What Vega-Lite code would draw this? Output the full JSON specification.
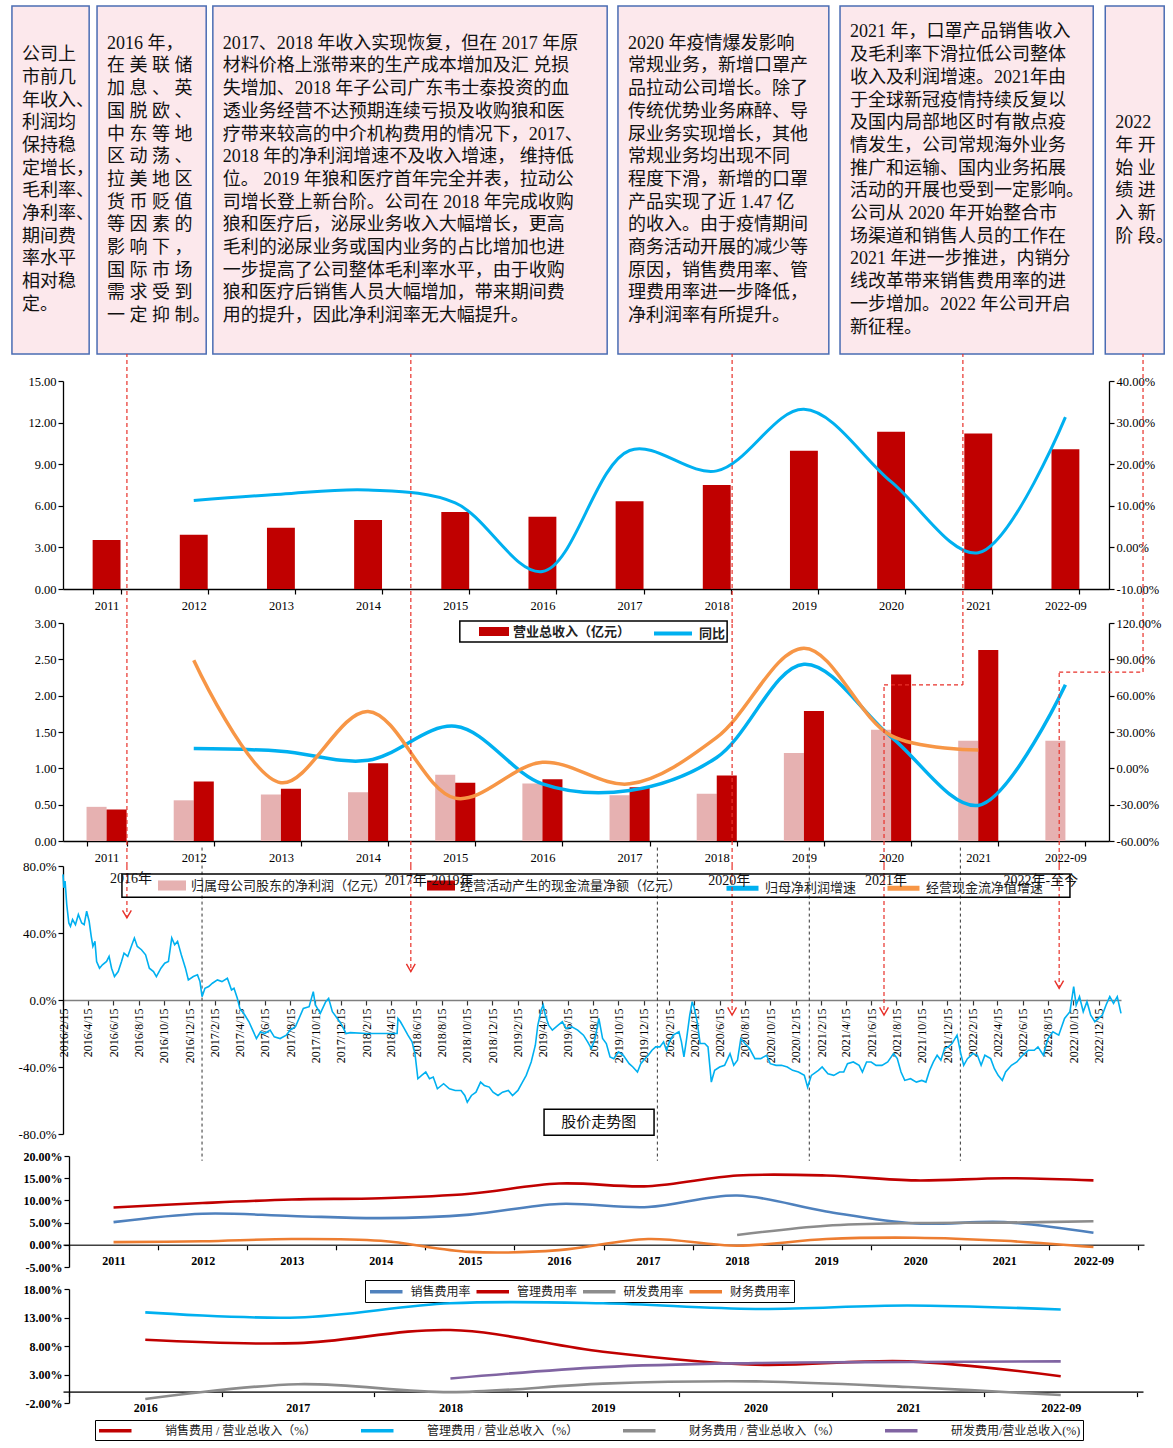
{
  "$schema": "https://vega.github.io/schema/vega-lite/v6.json",
  "padding": {"left": 11, "top": 5, "right": 5, "bottom": 5},
  "bounds": "flush",
  "spacing": 22,
  "resolve": {"scale": {"color": "independent", "fill": "independent", "stroke": "independent"}, "legend": {"color": "independent", "fill": "independent", "stroke": "independent"}},
  "config": {
    "font": "Liberation Serif, Noto Sans CJK SC",
    "view": {"stroke": null},
    "axis": {"grid": false, "labelOverlap": false, "labelFont": "Liberation Serif, Noto Sans CJK SC", "labelFontSize": 12.5, "labelColor": "#000", "domainColor": "#000", "tickColor": "#000", "tickSize": 5, "domainWidth": 1.3, "tickWidth": 1.2},
    "legend": {"labelFont": "Liberation Serif, Noto Sans CJK SC", "labelColor": "#222", "labelFontSize": 12},
    "locale": {"number": {"decimal": ".", "thousands": ",", "grouping": [3], "currency": ["", ""], "minus": "-"}}
  },
  "vconcat": [
    {
      "width": 1046, "height": 353,
      "data": {"values": [
        {"start": "2015-10-15", "end": "2016-04-18", "ty": 0.1412, "lines": ["公司上", "市前几", "年收入、", "利润均", "保持稳", "定增长，", "毛利率、", "净利率、", "期间费", "率水平", "相对稳", "定。"]},
        {"start": "2016-05-07", "end": "2017-01-25", "ty": 0.1086, "lines": ["2016 年，", "在 美 联 储", "加 息 、 英", "国 脱 欧 、", "中 东 等 地", "区 动 荡 、", "拉 美 地 区", "货 币 贬 值", "等 因 素 的", "影 响 下 ，", "国 际 市 场", "需 求 受 到", "一 定 抑 制。"]},
        {"start": "2017-02-10", "end": "2019-09-18", "ty": 0.1086, "lines": ["2017、2018 年收入实现恢复，但在 2017 年原", "材料价格上涨带来的生产成本增加及汇 兑损", "失增加、2018 年子公司广东韦士泰投资的血", "透业务经营不达预期连续亏损及收购狼和医", "疗带来较高的中介机构费用的情况下，2017、", "2018 年的净利润增速不及收入增速， 维持低", "位。 2019 年狼和医疗首年完全并表，拉动公", "司增长登上新台阶。公司在 2018 年完成收购", "狼和医疗后，泌尿业务收入大幅增长，更高", "毛利的泌尿业务或国内业务的占比增加也进", "一步提高了公司整体毛利率水平，由于收购", "狼和医疗后销售人员大幅增加，带来期间费", "用的提升，因此净利润率无大幅提升。"]},
        {"start": "2019-10-14", "end": "2021-03-05", "ty": 0.1086, "lines": ["2020 年疫情爆发影响", "常规业务，新增口罩产", "品拉动公司增长。除了", "传统优势业务麻醉、导", "尿业务实现增长，其他", "常规业务均出现不同", "程度下滑，新增的口罩", "产品实现了近 1.47 亿", "的收入。由于疫情期间", "商务活动开展的减少等", "原因，销售费用率、管", "理费用率进一步降低，", "净利润率有所提升。"]},
        {"start": "2021-04-01", "end": "2022-12-02", "ty": 0.076, "lines": ["2021 年，口罩产品销售收入", "及毛利率下滑拉低公司整体", "收入及利润增速。2021年由", "于全球新冠疫情持续反复以", "及国内局部地区时有散点疫", "情发生，公司常规海外业务", "推广和运输、国内业务拓展", "活动的开展也受到一定影响。", "公司从 2020 年开始整合市", "场渠道和销售人员的工作在", "2021 年进一步推进，内销分", "线改革带来销售费用率的进", "一步增加。2022 年公司开启", "新征程。"]},
        {"start": "2022-12-31", "end": "2023-05-22", "ty": 0.3369, "lines": ["2022", "年 开", "始 业", "绩 进", "入 新", "阶 段。"]}
      ]},
      "layer": [
        {
          "mark": {"type": "rect", "fill": "#fce8ec", "stroke": "#4a6cb3", "strokeWidth": 1.5, "clip": false},
          "encoding": {
            "x": {"field": "start", "type": "temporal", "title": null, "scale": {"type": "utc", "nice": false, "domain": [{"year": 2016, "month": 2, "date": 15, "utc": true}, {"year": 2023, "month": 1, "date": 9, "utc": true}]}, "axis": null},
            "x2": {"field": "end"},
            "y": {"datum": 0, "type": "quantitative", "scale": {"domain": [0, 1], "range": [0, 348], "nice": false}, "axis": null},
            "y2": {"datum": 1}
          }
        },
        {
          "mark": {"type": "text", "fontSize": 18, "lineHeight": 22.7, "align": "left", "baseline": "middle", "dx": 10, "color": "#111", "clip": false},
          "encoding": {
            "x": {"field": "start", "type": "temporal", "title": null, "axis": null},
            "y": {"field": "ty", "type": "quantitative", "title": null, "axis": null},
            "text": {"field": "lines"}
          }
        }
      ]
    },
    {
      "width": 1046, "height": 208,
      "layer": [
        {
          "data": {"name": "revenue", "values": [
            {"year": "2011", "rev": 3.53, "yoy": null},
            {"year": "2012", "rev": 3.92, "yoy": 0.113},
            {"year": "2013", "rev": 4.42, "yoy": 0.128},
            {"year": "2014", "rev": 4.97, "yoy": 0.138},
            {"year": "2015", "rev": 5.55, "yoy": 0.107},
            {"year": "2016", "rev": 5.21, "yoy": -0.058},
            {"year": "2017", "rev": 6.32, "yoy": 0.233},
            {"year": "2018", "rev": 7.5, "yoy": 0.184},
            {"year": "2019", "rev": 9.97, "yoy": 0.332},
            {"year": "2020", "rev": 11.34, "yoy": 0.158},
            {"year": "2021", "rev": 11.22, "yoy": -0.013},
            {"year": "2022-09", "rev": 10.07, "yoy": 0.313}
          ]},
          "mark": {"type": "bar"},
          "encoding": {
            "x": {"field": "year", "type": "nominal", "sort": null, "title": null, "scale": {"domain": ["2011", "2012", "2013", "2014", "2015", "2016", "2017", "2018", "2019", "2020", "2021", "2022-09"], "paddingInner": 0.68, "paddingOuter": 0.34}, "axis": {"labelAngle": 0, "tickBand": "extent", "labelPadding": 5}},
            "y": {"field": "rev", "type": "quantitative", "title": null, "scale": {"domain": [0, 15], "nice": false}, "axis": {"values": [0, 3, 6, 9, 12, 15], "format": ".2f"}},
            "fill": {"datum": "营业总收入（亿元）", "type": "nominal", "scale": {"range": ["#c00000"]}, "legend": {"orient": "none", "legendX": 416, "legendY": 235.5, "direction": "horizontal", "title": null, "padding": 0, "symbolType": "M-1,-0.3H1V0.3H-1Z", "symbolSize": 900, "symbolStrokeWidth": 0, "labelOffset": 4, "labelFontSize": 13, "labelFontWeight": "bold", "labelLimit": 400}}
          }
        },
        {
          "data": {"name": "revenue"},
          "mark": {"type": "line", "interpolate": "catmull-rom", "strokeWidth": 3},
          "encoding": {
            "x": {"field": "year", "type": "nominal", "sort": null, "title": null, "scale": {"domain": ["2011", "2012", "2013", "2014", "2015", "2016", "2017", "2018", "2019", "2020", "2021", "2022-09"]}, "axis": null},
            "y": {"field": "yoy", "type": "quantitative", "title": null, "scale": {"domain": [-0.1, 0.4], "nice": false}, "axis": {"orient": "right", "values": [-0.1, 0, 0.1, 0.2, 0.3, 0.4], "format": ".2%"}},
            "stroke": {"datum": "同比", "type": "nominal", "scale": {"range": ["#00b0f0"]}, "legend": {"orient": "none", "legendX": 589, "legendY": 231.5, "direction": "horizontal", "title": null, "padding": 0, "symbolType": "stroke", "symbolSize": 1444, "symbolStrokeWidth": 4, "labelOffset": 5, "labelFontSize": 13, "labelFontWeight": "bold"}}
          }
        },
        {
          "data": {"values": [
            {"d": "2016-07-18", "lo": -0.163, "hi": 1.13},
            {"d": "2018-06-02", "lo": -0.163, "hi": 1.13},
            {"d": "2020-07-15", "lo": -0.163, "hi": 1.13},
            {"d": "2022-01-22", "lo": -0.163, "hi": 1.13},
            {"d": "2023-04-01", "lo": -0.163, "hi": 1.13}
          ]},
          "mark": {"type": "rule", "color": "#e8312a", "strokeDash": [4, 3], "strokeWidth": 1.2, "clip": false},
          "encoding": {
            "x": {"field": "d", "type": "temporal", "title": null, "scale": {"type": "utc", "nice": false, "domain": [{"year": 2016, "month": 2, "date": 15, "utc": true}, {"year": 2023, "month": 1, "date": 9, "utc": true}]}, "axis": null},
            "y": {"field": "lo", "type": "quantitative", "title": null, "scale": {"domain": [0, 1], "nice": false}, "axis": null},
            "y2": {"field": "hi"}
          }
        }
      ],
      "resolve": {"scale": {"x": "independent", "y": "independent"}, "axis": {"x": "independent", "y": "independent"}}
    },
    {
      "width": 1046, "height": 230,
      "layer": [
        {
          "data": {"values": [
            {"year": "2011", "t": "归属母公司股东的净利润（亿元）", "v": 0.47},
            {"year": "2011", "t": "经营活动产生的现金流量净额（亿元）", "v": 0.435},
            {"year": "2012", "t": "归属母公司股东的净利润（亿元）", "v": 0.56},
            {"year": "2012", "t": "经营活动产生的现金流量净额（亿元）", "v": 0.82},
            {"year": "2013", "t": "归属母公司股东的净利润（亿元）", "v": 0.64},
            {"year": "2013", "t": "经营活动产生的现金流量净额（亿元）", "v": 0.72},
            {"year": "2014", "t": "归属母公司股东的净利润（亿元）", "v": 0.67},
            {"year": "2014", "t": "经营活动产生的现金流量净额（亿元）", "v": 1.07},
            {"year": "2015", "t": "归属母公司股东的净利润（亿元）", "v": 0.91},
            {"year": "2015", "t": "经营活动产生的现金流量净额（亿元）", "v": 0.8},
            {"year": "2016", "t": "归属母公司股东的净利润（亿元）", "v": 0.79},
            {"year": "2016", "t": "经营活动产生的现金流量净额（亿元）", "v": 0.85},
            {"year": "2017", "t": "归属母公司股东的净利润（亿元）", "v": 0.63},
            {"year": "2017", "t": "经营活动产生的现金流量净额（亿元）", "v": 0.74},
            {"year": "2018", "t": "归属母公司股东的净利润（亿元）", "v": 0.65},
            {"year": "2018", "t": "经营活动产生的现金流量净额（亿元）", "v": 0.9},
            {"year": "2019", "t": "归属母公司股东的净利润（亿元）", "v": 1.21},
            {"year": "2019", "t": "经营活动产生的现金流量净额（亿元）", "v": 1.79},
            {"year": "2020", "t": "归属母公司股东的净利润（亿元）", "v": 1.53},
            {"year": "2020", "t": "经营活动产生的现金流量净额（亿元）", "v": 2.29},
            {"year": "2021", "t": "归属母公司股东的净利润（亿元）", "v": 1.38},
            {"year": "2021", "t": "经营活动产生的现金流量净额（亿元）", "v": 2.63},
            {"year": "2022-09", "t": "归属母公司股东的净利润（亿元）", "v": 1.38}
          ]},
          "mark": {"type": "bar"},
          "encoding": {
            "x": {"field": "year", "type": "nominal", "sort": null, "title": null, "scale": {"domain": ["2011", "2012", "2013", "2014", "2015", "2016", "2017", "2018", "2019", "2020", "2021", "2022-09"], "paddingInner": 0.54, "paddingOuter": 0.27}, "axis": {"labelAngle": 0, "tickBand": "extent", "labelPadding": 5}},
            "xOffset": {"field": "t", "type": "nominal", "sort": ["归属母公司股东的净利润（亿元）", "经营活动产生的现金流量净额（亿元）"]},
            "y": {"field": "v", "type": "quantitative", "title": null, "scale": {"domain": [0, 3], "range": [230, 12], "nice": false}, "axis": {"values": [0, 0.5, 1, 1.5, 2, 2.5, 3], "format": ".2f"}},
            "fill": {"field": "t", "type": "nominal", "scale": {"domain": ["归属母公司股东的净利润（亿元）", "经营活动产生的现金流量净额（亿元）"], "range": ["#e6b1b1", "#c00000"]}, "legend": {"orient": "none", "legendX": 95, "legendY": 260.5, "direction": "horizontal", "title": null, "padding": 0, "symbolType": "M-1,-0.36H1V0.36H-1Z", "symbolSize": 784, "symbolStrokeWidth": 0, "labelOffset": 5, "columnPadding": 40, "labelFontSize": 13, "labelLimit": 400}}
          }
        },
        {
          "data": {"values": [
            {"year": "2012", "s": "归母净利润增速", "v": 0.163},
            {"year": "2013", "s": "归母净利润增速", "v": 0.142},
            {"year": "2014", "s": "归母净利润增速", "v": 0.066},
            {"year": "2015", "s": "归母净利润增速", "v": 0.347},
            {"year": "2016", "s": "归母净利润增速", "v": -0.128},
            {"year": "2017", "s": "归母净利润增速", "v": -0.183},
            {"year": "2018", "s": "归母净利润增速", "v": 0.09},
            {"year": "2019", "s": "归母净利润增速", "v": 0.86},
            {"year": "2020", "s": "归母净利润增速", "v": 0.26},
            {"year": "2021", "s": "归母净利润增速", "v": -0.306},
            {"year": "2022-09", "s": "归母净利润增速", "v": 0.69},
            {"year": "2012", "s": "经营现金流净值增速", "v": 0.893},
            {"year": "2013", "s": "经营现金流净值增速", "v": -0.119},
            {"year": "2014", "s": "经营现金流净值增速", "v": 0.47},
            {"year": "2015", "s": "经营现金流净值增速", "v": -0.246},
            {"year": "2016", "s": "经营现金流净值增速", "v": 0.05},
            {"year": "2017", "s": "经营现金流净值增速", "v": -0.128},
            {"year": "2018", "s": "经营现金流净值增速", "v": 0.256},
            {"year": "2019", "s": "经营现金流净值增速", "v": 0.992},
            {"year": "2020", "s": "经营现金流净值增速", "v": 0.27},
            {"year": "2021", "s": "经营现金流净值增速", "v": 0.152}
          ]},
          "mark": {"type": "line", "interpolate": "catmull-rom", "strokeWidth": 3.5},
          "encoding": {
            "x": {"field": "year", "type": "nominal", "sort": null, "title": null, "scale": {"domain": ["2011", "2012", "2013", "2014", "2015", "2016", "2017", "2018", "2019", "2020", "2021", "2022-09"]}, "axis": null},
            "y": {"field": "v", "type": "quantitative", "title": null, "scale": {"domain": [-0.6, 1.2], "range": [230, 12], "nice": false}, "axis": {"orient": "right", "values": [-0.6, -0.3, 0, 0.3, 0.6, 0.9, 1.2], "format": ".2%"}},
            "stroke": {"field": "s", "type": "nominal", "scale": {"domain": ["归母净利润增速", "经营现金流净值增速"], "range": ["#00b0f0", "#f79646"]}, "legend": {"orient": "none", "legendX": 661, "legendY": 258.5, "direction": "horizontal", "title": null, "padding": 0, "symbolType": "stroke", "symbolSize": 1024, "symbolStrokeWidth": 5, "labelOffset": 4, "columnPadding": 20, "labelFontSize": 13, "labelLimit": 400}}
          }
        },
        {
          "data": {"values": [
            {"x1": "2016-07-18", "x2": "2016-07-18", "y1": -0.115, "y2": 1},
            {"x1": "2018-06-02", "x2": "2018-06-02", "y1": -0.115, "y2": 1},
            {"x1": "2020-07-15", "x2": "2020-07-15", "y1": -0.115, "y2": 1},
            {"x1": "2022-01-22", "x2": "2022-01-22", "y1": 0.716, "y2": 1},
            {"x1": "2021-07-16", "x2": "2022-01-22", "y1": 0.716, "y2": 0.716},
            {"x1": "2021-07-16", "x2": "2021-07-16", "y1": -0.115, "y2": 0.716},
            {"x1": "2023-04-01", "x2": "2023-04-01", "y1": 0.775, "y2": 1},
            {"x1": "2022-09-11", "x2": "2023-04-01", "y1": 0.775, "y2": 0.775},
            {"x1": "2022-09-11", "x2": "2022-09-11", "y1": -0.115, "y2": 0.775}
          ]},
          "mark": {"type": "rule", "color": "#e8312a", "strokeDash": [4, 3], "strokeWidth": 1.2, "clip": false},
          "encoding": {
            "x": {"field": "x1", "type": "temporal", "title": null, "scale": {"type": "utc", "nice": false, "domain": [{"year": 2016, "month": 2, "date": 15, "utc": true}, {"year": 2023, "month": 1, "date": 9, "utc": true}]}, "axis": null},
            "x2": {"field": "x2"},
            "y": {"field": "y1", "type": "quantitative", "title": null, "scale": {"domain": [0, 1], "range": [230, 12], "nice": false}, "axis": null},
            "y2": {"field": "y2"}
          }
        },
        {
          "data": {"values": [{"x1": "2018-09-28", "x2": "2020-07-03", "y1": 1.009, "y2": 0.913}]},
          "mark": {"type": "rect", "filled": false, "color": "#000", "strokeWidth": 1.5, "clip": false},
          "encoding": {
            "x": {"field": "x1", "type": "temporal", "title": null, "scale": {"type": "utc", "nice": false, "domain": [{"year": 2016, "month": 2, "date": 15, "utc": true}, {"year": 2023, "month": 1, "date": 9, "utc": true}]}, "axis": null},
            "x2": {"field": "x2"},
            "y": {"field": "y1", "type": "quantitative", "title": null, "scale": {"domain": [0, 1], "range": [230, 12], "nice": false}, "axis": null},
            "y2": {"field": "y2"}
          }
        }
      ],
      "resolve": {"scale": {"x": "independent", "y": "independent"}, "axis": {"x": "independent", "y": "independent"}}
    },
    {
      "width": 1058, "height": 271,
      "layer": [
        {
          "data": {"values": [{"d": "2017-01-15"}, {"d": "2020-01-17"}, {"d": "2021-01-17"}, {"d": "2022-01-16"}]},
          "mark": {"type": "rule", "color": "#333", "strokeDash": [3, 3], "strokeWidth": 1, "clip": false},
          "encoding": {
            "x": {"field": "d", "type": "temporal", "title": null},
            "y": {"datum": 0.91, "type": "quantitative"},
            "y2": {"datum": -0.96}
          }
        },
        {
          "data": {"name": "arrows", "values": [
            {"d": "2016-07-18", "top": 0.8, "tip": 0.49},
            {"d": "2018-06-02", "top": 0.8, "tip": 0.17},
            {"d": "2020-07-15", "top": 0.8, "tip": -0.09},
            {"d": "2021-07-16", "top": 0.8, "tip": -0.09},
            {"d": "2022-09-11", "top": 0.8, "tip": 0.07}
          ]},
          "mark": {"type": "rule", "color": "#e8312a", "strokeDash": [4, 3], "strokeWidth": 1.2},
          "encoding": {
            "x": {"field": "d", "type": "temporal", "title": null},
            "y": {"field": "top", "type": "quantitative", "title": null},
            "y2": {"field": "tip"}
          }
        },
        {
          "data": {"values": [
            {"d": "2016-02-15", "v": 0.75}, {"d": "2016-02-17", "v": 0.67}, {"d": "2016-02-20", "v": 0.71}, {"d": "2016-02-24", "v": 0.57},
            {"d": "2016-02-29", "v": 0.46}, {"d": "2016-03-04", "v": 0.44}, {"d": "2016-03-09", "v": 0.48}, {"d": "2016-03-16", "v": 0.45},
            {"d": "2016-03-23", "v": 0.51}, {"d": "2016-03-31", "v": 0.46}, {"d": "2016-04-06", "v": 0.45}, {"d": "2016-04-12", "v": 0.53},
            {"d": "2016-04-18", "v": 0.47}, {"d": "2016-04-23", "v": 0.38}, {"d": "2016-04-27", "v": 0.32}, {"d": "2016-05-02", "v": 0.35},
            {"d": "2016-05-06", "v": 0.23}, {"d": "2016-05-13", "v": 0.19}, {"d": "2016-05-20", "v": 0.21}, {"d": "2016-05-30", "v": 0.23},
            {"d": "2016-06-05", "v": 0.26}, {"d": "2016-06-11", "v": 0.19}, {"d": "2016-06-18", "v": 0.14}, {"d": "2016-06-27", "v": 0.17},
            {"d": "2016-07-05", "v": 0.23}, {"d": "2016-07-11", "v": 0.28}, {"d": "2016-07-20", "v": 0.26}, {"d": "2016-07-30", "v": 0.33},
            {"d": "2016-08-05", "v": 0.37}, {"d": "2016-08-12", "v": 0.32}, {"d": "2016-08-22", "v": 0.3}, {"d": "2016-09-01", "v": 0.27},
            {"d": "2016-09-10", "v": 0.19}, {"d": "2016-09-20", "v": 0.17}, {"d": "2016-09-27", "v": 0.14}, {"d": "2016-10-08", "v": 0.19},
            {"d": "2016-10-17", "v": 0.22}, {"d": "2016-10-26", "v": 0.23}, {"d": "2016-11-03", "v": 0.37}, {"d": "2016-11-10", "v": 0.33},
            {"d": "2016-11-17", "v": 0.35}, {"d": "2016-11-26", "v": 0.27}, {"d": "2016-12-06", "v": 0.19}, {"d": "2016-12-13", "v": 0.12},
            {"d": "2016-12-25", "v": 0.14}, {"d": "2017-01-04", "v": 0.15}, {"d": "2017-01-10", "v": 0.11}, {"d": "2017-01-15", "v": 0.02},
            {"d": "2017-01-22", "v": 0.07}, {"d": "2017-01-31", "v": 0.08}, {"d": "2017-02-09", "v": 0.1}, {"d": "2017-02-21", "v": 0.12},
            {"d": "2017-03-04", "v": 0.11}, {"d": "2017-03-17", "v": 0.13}, {"d": "2017-03-27", "v": 0.06}, {"d": "2017-04-02", "v": 0.07},
            {"d": "2017-04-10", "v": 0.01}, {"d": "2017-04-16", "v": -0.05}, {"d": "2017-04-28", "v": -0.09}, {"d": "2017-05-08", "v": -0.13},
            {"d": "2017-05-17", "v": -0.18}, {"d": "2017-05-26", "v": -0.23}, {"d": "2017-06-05", "v": -0.19}, {"d": "2017-06-15", "v": -0.2},
            {"d": "2017-06-28", "v": -0.18}, {"d": "2017-07-08", "v": -0.22}, {"d": "2017-07-22", "v": -0.23}, {"d": "2017-08-06", "v": -0.21},
            {"d": "2017-08-15", "v": -0.18}, {"d": "2017-08-28", "v": -0.16}, {"d": "2017-09-16", "v": -0.05}, {"d": "2017-09-30", "v": -0.04},
            {"d": "2017-10-10", "v": 0.05}, {"d": "2017-10-15", "v": -0.03}, {"d": "2017-10-27", "v": -0.08}, {"d": "2017-11-09", "v": -0.01},
            {"d": "2017-11-16", "v": 0.01}, {"d": "2017-11-25", "v": -0.07}, {"d": "2017-12-07", "v": -0.11}, {"d": "2017-12-18", "v": -0.15},
            {"d": "2017-12-28", "v": -0.2}, {"d": "2018-01-07", "v": -0.195}, {"d": "2018-02-15", "v": -0.2}, {"d": "2018-03-20", "v": -0.2},
            {"d": "2018-04-30", "v": -0.2}, {"d": "2018-05-02", "v": -0.11}, {"d": "2018-05-08", "v": -0.13}, {"d": "2018-05-17", "v": -0.17},
            {"d": "2018-05-26", "v": -0.21}, {"d": "2018-06-05", "v": -0.25}, {"d": "2018-06-12", "v": -0.32}, {"d": "2018-06-19", "v": -0.47},
            {"d": "2018-06-28", "v": -0.45}, {"d": "2018-07-08", "v": -0.43}, {"d": "2018-07-17", "v": -0.47}, {"d": "2018-07-26", "v": -0.46},
            {"d": "2018-08-05", "v": -0.53}, {"d": "2018-08-20", "v": -0.5}, {"d": "2018-09-03", "v": -0.53}, {"d": "2018-09-17", "v": -0.54},
            {"d": "2018-10-01", "v": -0.54}, {"d": "2018-10-10", "v": -0.57}, {"d": "2018-10-16", "v": -0.61}, {"d": "2018-10-26", "v": -0.57},
            {"d": "2018-11-06", "v": -0.55}, {"d": "2018-11-17", "v": -0.49}, {"d": "2018-11-26", "v": -0.51}, {"d": "2018-12-08", "v": -0.52},
            {"d": "2018-12-17", "v": -0.55}, {"d": "2018-12-29", "v": -0.57}, {"d": "2019-01-09", "v": -0.55}, {"d": "2019-01-23", "v": -0.54},
            {"d": "2019-02-02", "v": -0.57}, {"d": "2019-02-15", "v": -0.54}, {"d": "2019-02-26", "v": -0.49}, {"d": "2019-03-07", "v": -0.45},
            {"d": "2019-03-19", "v": -0.37}, {"d": "2019-03-29", "v": -0.27}, {"d": "2019-04-04", "v": -0.15}, {"d": "2019-04-12", "v": -0.06},
            {"d": "2019-04-17", "v": -0.03}, {"d": "2019-04-22", "v": -0.09}, {"d": "2019-04-30", "v": -0.15}, {"d": "2019-05-09", "v": -0.18},
            {"d": "2019-05-23", "v": -0.15}, {"d": "2019-06-02", "v": -0.13}, {"d": "2019-06-11", "v": -0.17}, {"d": "2019-06-25", "v": -0.16},
            {"d": "2019-07-09", "v": -0.18}, {"d": "2019-07-23", "v": -0.21}, {"d": "2019-08-02", "v": -0.25}, {"d": "2019-08-11", "v": -0.29},
            {"d": "2019-08-20", "v": -0.23}, {"d": "2019-08-29", "v": -0.11}, {"d": "2019-09-07", "v": -0.23}, {"d": "2019-09-16", "v": -0.26},
            {"d": "2019-09-25", "v": -0.34}, {"d": "2019-10-04", "v": -0.35}, {"d": "2019-10-15", "v": -0.31}, {"d": "2019-10-27", "v": -0.33},
            {"d": "2019-11-10", "v": -0.38}, {"d": "2019-11-19", "v": -0.4}, {"d": "2019-11-30", "v": -0.43}, {"d": "2019-12-08", "v": -0.38},
            {"d": "2019-12-15", "v": -0.36}, {"d": "2019-12-26", "v": -0.33}, {"d": "2020-01-04", "v": -0.3}, {"d": "2020-01-13", "v": -0.28},
            {"d": "2020-01-23", "v": -0.28}, {"d": "2020-02-01", "v": -0.25}, {"d": "2020-02-08", "v": -0.3}, {"d": "2020-02-15", "v": -0.25},
            {"d": "2020-02-24", "v": -0.21}, {"d": "2020-03-09", "v": -0.19}, {"d": "2020-03-15", "v": -0.25}, {"d": "2020-03-21", "v": -0.34},
            {"d": "2020-03-27", "v": -0.24}, {"d": "2020-04-04", "v": -0.09}, {"d": "2020-04-10", "v": -0.01}, {"d": "2020-04-15", "v": -0.05},
            {"d": "2020-04-22", "v": -0.13}, {"d": "2020-04-29", "v": -0.26}, {"d": "2020-05-10", "v": -0.26}, {"d": "2020-05-18", "v": -0.28},
            {"d": "2020-05-26", "v": -0.49}, {"d": "2020-06-03", "v": -0.42}, {"d": "2020-06-15", "v": -0.4}, {"d": "2020-06-27", "v": -0.39},
            {"d": "2020-07-10", "v": -0.32}, {"d": "2020-07-19", "v": -0.39}, {"d": "2020-07-28", "v": -0.36}, {"d": "2020-08-05", "v": -0.23},
            {"d": "2020-08-15", "v": -0.26}, {"d": "2020-08-26", "v": -0.29}, {"d": "2020-09-08", "v": -0.35}, {"d": "2020-09-22", "v": -0.35},
            {"d": "2020-10-06", "v": -0.33}, {"d": "2020-10-15", "v": -0.38}, {"d": "2020-10-29", "v": -0.39}, {"d": "2020-11-11", "v": -0.39},
            {"d": "2020-11-25", "v": -0.4}, {"d": "2020-12-08", "v": -0.42}, {"d": "2020-12-22", "v": -0.43}, {"d": "2021-01-05", "v": -0.45},
            {"d": "2021-01-13", "v": -0.52}, {"d": "2021-01-22", "v": -0.45}, {"d": "2021-02-08", "v": -0.42}, {"d": "2021-02-17", "v": -0.4},
            {"d": "2021-03-03", "v": -0.44}, {"d": "2021-03-17", "v": -0.45}, {"d": "2021-03-31", "v": -0.43}, {"d": "2021-04-10", "v": -0.43},
            {"d": "2021-04-19", "v": -0.38}, {"d": "2021-05-03", "v": -0.37}, {"d": "2021-05-17", "v": -0.39}, {"d": "2021-05-25", "v": -0.43},
            {"d": "2021-06-04", "v": -0.37}, {"d": "2021-06-15", "v": -0.37}, {"d": "2021-06-27", "v": -0.39}, {"d": "2021-07-11", "v": -0.39},
            {"d": "2021-07-25", "v": -0.37}, {"d": "2021-08-08", "v": -0.32}, {"d": "2021-08-17", "v": -0.35}, {"d": "2021-08-26", "v": -0.43},
            {"d": "2021-09-04", "v": -0.48}, {"d": "2021-09-18", "v": -0.47}, {"d": "2021-10-02", "v": -0.49}, {"d": "2021-10-15", "v": -0.48},
            {"d": "2021-10-25", "v": -0.49}, {"d": "2021-11-03", "v": -0.42}, {"d": "2021-11-12", "v": -0.37}, {"d": "2021-11-21", "v": -0.33},
            {"d": "2021-11-30", "v": -0.36}, {"d": "2021-12-09", "v": -0.29}, {"d": "2021-12-18", "v": -0.28}, {"d": "2021-12-27", "v": -0.26},
            {"d": "2022-01-08", "v": -0.21}, {"d": "2022-01-17", "v": -0.32}, {"d": "2022-01-24", "v": -0.39}, {"d": "2022-02-02", "v": -0.35},
            {"d": "2022-02-15", "v": -0.32}, {"d": "2022-02-26", "v": -0.33}, {"d": "2022-03-07", "v": -0.39}, {"d": "2022-03-16", "v": -0.33},
            {"d": "2022-03-30", "v": -0.35}, {"d": "2022-04-08", "v": -0.41}, {"d": "2022-04-17", "v": -0.45}, {"d": "2022-04-27", "v": -0.48},
            {"d": "2022-05-05", "v": -0.43}, {"d": "2022-05-19", "v": -0.39}, {"d": "2022-06-01", "v": -0.37}, {"d": "2022-06-15", "v": -0.33},
            {"d": "2022-06-29", "v": -0.3}, {"d": "2022-07-13", "v": -0.3}, {"d": "2022-07-22", "v": -0.28}, {"d": "2022-08-04", "v": -0.33},
            {"d": "2022-08-15", "v": -0.23}, {"d": "2022-08-27", "v": -0.19}, {"d": "2022-09-10", "v": -0.21}, {"d": "2022-09-24", "v": -0.11},
            {"d": "2022-10-07", "v": -0.07}, {"d": "2022-10-16", "v": 0.08}, {"d": "2022-10-22", "v": -0.03}, {"d": "2022-10-30", "v": 0.02},
            {"d": "2022-11-08", "v": -0.07}, {"d": "2022-11-17", "v": -0.01}, {"d": "2022-11-26", "v": -0.09}, {"d": "2022-12-06", "v": -0.13},
            {"d": "2022-12-15", "v": -0.11}, {"d": "2022-12-24", "v": -0.09}, {"d": "2023-01-02", "v": -0.03}, {"d": "2023-01-11", "v": 0.02},
            {"d": "2023-01-20", "v": -0.02}, {"d": "2023-01-29", "v": 0.02}, {"d": "2023-02-07", "v": -0.08}
          ]},
          "mark": {"type": "line", "color": "#00b0f0", "strokeWidth": 1.6},
          "encoding": {
            "x": {"field": "d", "type": "temporal", "title": null,
              "scale": {"type": "utc", "nice": false, "domain": [{"year": 2016, "month": 2, "date": 15, "utc": true}, {"year": 2023, "month": 2, "date": 7, "utc": true}]},
              "axis": {"labelExpr": "utcFormat(datum.value, '%Y/%-m/%-d')", "tickCount": 60, "labelAngle": 270, "labelAlign": "right", "labelBaseline": "middle", "offset": -134, "labelPadding": 3, "labelFontSize": 12, "labelOverlap": false, "labelFlush": false, "domainColor": "#7f7f7f", "domainWidth": 1.6, "tickColor": "#333",
                "values": [
                  {"year": 2016, "month": 2, "date": 15, "utc": true}, {"year": 2016, "month": 4, "date": 15, "utc": true}, {"year": 2016, "month": 6, "date": 15, "utc": true}, {"year": 2016, "month": 8, "date": 15, "utc": true}, {"year": 2016, "month": 10, "date": 15, "utc": true}, {"year": 2016, "month": 12, "date": 15, "utc": true},
                  {"year": 2017, "month": 2, "date": 15, "utc": true}, {"year": 2017, "month": 4, "date": 15, "utc": true}, {"year": 2017, "month": 6, "date": 15, "utc": true}, {"year": 2017, "month": 8, "date": 15, "utc": true}, {"year": 2017, "month": 10, "date": 15, "utc": true}, {"year": 2017, "month": 12, "date": 15, "utc": true},
                  {"year": 2018, "month": 2, "date": 15, "utc": true}, {"year": 2018, "month": 4, "date": 15, "utc": true}, {"year": 2018, "month": 6, "date": 15, "utc": true}, {"year": 2018, "month": 8, "date": 15, "utc": true}, {"year": 2018, "month": 10, "date": 15, "utc": true}, {"year": 2018, "month": 12, "date": 15, "utc": true},
                  {"year": 2019, "month": 2, "date": 15, "utc": true}, {"year": 2019, "month": 4, "date": 15, "utc": true}, {"year": 2019, "month": 6, "date": 15, "utc": true}, {"year": 2019, "month": 8, "date": 15, "utc": true}, {"year": 2019, "month": 10, "date": 15, "utc": true}, {"year": 2019, "month": 12, "date": 15, "utc": true},
                  {"year": 2020, "month": 2, "date": 15, "utc": true}, {"year": 2020, "month": 4, "date": 15, "utc": true}, {"year": 2020, "month": 6, "date": 15, "utc": true}, {"year": 2020, "month": 8, "date": 15, "utc": true}, {"year": 2020, "month": 10, "date": 15, "utc": true}, {"year": 2020, "month": 12, "date": 15, "utc": true},
                  {"year": 2021, "month": 2, "date": 15, "utc": true}, {"year": 2021, "month": 4, "date": 15, "utc": true}, {"year": 2021, "month": 6, "date": 15, "utc": true}, {"year": 2021, "month": 8, "date": 15, "utc": true}, {"year": 2021, "month": 10, "date": 15, "utc": true}, {"year": 2021, "month": 12, "date": 15, "utc": true},
                  {"year": 2022, "month": 2, "date": 15, "utc": true}, {"year": 2022, "month": 4, "date": 15, "utc": true}, {"year": 2022, "month": 6, "date": 15, "utc": true}, {"year": 2022, "month": 8, "date": 15, "utc": true}, {"year": 2022, "month": 10, "date": 15, "utc": true}, {"year": 2022, "month": 12, "date": 15, "utc": true}
                ]}},
            "y": {"field": "v", "type": "quantitative", "title": null, "scale": {"domain": [-0.8, 0.8], "range": [271, 3], "nice": false}, "axis": {"values": [-0.8, -0.6, -0.4, -0.2, 0, 0.2, 0.4, 0.6, 0.8], "format": ".1%", "labelFontSize": 13}}
          }
        },
        {
          "data": {"name": "arrows"},
          "mark": {"type": "point", "shape": "M-1.1,-1.9L0,0L1.1,-1.9", "filled": false, "color": "#e8312a", "strokeWidth": 1.4, "size": 64, "opacity": 1},
          "encoding": {
            "x": {"field": "d", "type": "temporal", "title": null},
            "y": {"field": "tip", "type": "quantitative", "title": null}
          }
        },
        {
          "data": {"values": [{"x1": "2016-07-06", "x2": "2022-10-07", "y1": 0.752, "y2": 0.614}]},
          "mark": {"type": "rect", "filled": false, "color": "#000", "strokeWidth": 1.5},
          "encoding": {
            "x": {"field": "x1", "type": "temporal", "title": null},
            "x2": {"field": "x2"},
            "y": {"field": "y1", "type": "quantitative", "title": null},
            "y2": {"field": "y2"}
          }
        },
        {
          "data": {"values": [
            {"d": "2016-07-28", "y": 0.725, "t": "2016年"},
            {"d": "2018-07-16", "y": 0.712, "t": "2017年-2019年"},
            {"d": "2020-07-08", "y": 0.712, "t": "2020年"},
            {"d": "2021-07-21", "y": 0.71, "t": "2021年"},
            {"d": "2022-07-29", "y": 0.712, "t": "2022年-至今"}
          ]},
          "mark": {"type": "text", "fontSize": 14, "color": "#111", "align": "center", "baseline": "middle"},
          "encoding": {
            "x": {"field": "d", "type": "temporal", "title": null},
            "y": {"field": "y", "type": "quantitative", "title": null},
            "text": {"field": "t"}
          }
        },
        {
          "data": {"values": [{"x1": "2019-04-19", "x2": "2020-01-09", "y1": -0.652, "y2": -0.808}]},
          "mark": {"type": "rect", "fill": "#fff", "stroke": "#000", "strokeWidth": 1.5},
          "encoding": {
            "x": {"field": "x1", "type": "temporal", "title": null},
            "x2": {"field": "x2"},
            "y": {"field": "y1", "type": "quantitative", "title": null},
            "y2": {"field": "y2"}
          }
        },
        {
          "data": {"values": [{"d": "2019-08-29", "y": -0.73, "t": "股价走势图"}]},
          "mark": {"type": "text", "fontSize": 15, "color": "#111", "align": "center", "baseline": "middle"},
          "encoding": {
            "x": {"field": "d", "type": "temporal", "title": null},
            "y": {"field": "y", "type": "quantitative", "title": null},
            "text": {"field": "t"}
          }
        }
      ]
    },
    {
      "width": 1081, "height": 111,
      "data": {"values": [
        {"year": "2011", "s": "销售费用率", "v": 0.051}, {"year": "2012", "s": "销售费用率", "v": 0.07}, {"year": "2013", "s": "销售费用率", "v": 0.065}, {"year": "2014", "s": "销售费用率", "v": 0.06},
        {"year": "2015", "s": "销售费用率", "v": 0.068}, {"year": "2016", "s": "销售费用率", "v": 0.092}, {"year": "2017", "s": "销售费用率", "v": 0.085}, {"year": "2018", "s": "销售费用率", "v": 0.111},
        {"year": "2019", "s": "销售费用率", "v": 0.075}, {"year": "2020", "s": "销售费用率", "v": 0.048}, {"year": "2021", "s": "销售费用率", "v": 0.051}, {"year": "2022-09", "s": "销售费用率", "v": 0.027},
        {"year": "2011", "s": "管理费用率", "v": 0.084}, {"year": "2012", "s": "管理费用率", "v": 0.094}, {"year": "2013", "s": "管理费用率", "v": 0.102}, {"year": "2014", "s": "管理费用率", "v": 0.105},
        {"year": "2015", "s": "管理费用率", "v": 0.115}, {"year": "2016", "s": "管理费用率", "v": 0.138}, {"year": "2017", "s": "管理费用率", "v": 0.132}, {"year": "2018", "s": "管理费用率", "v": 0.156},
        {"year": "2019", "s": "管理费用率", "v": 0.156}, {"year": "2020", "s": "管理费用率", "v": 0.145}, {"year": "2021", "s": "管理费用率", "v": 0.15}, {"year": "2022-09", "s": "管理费用率", "v": 0.145},
        {"year": "2018", "s": "研发费用率", "v": 0.022}, {"year": "2019", "s": "研发费用率", "v": 0.043}, {"year": "2020", "s": "研发费用率", "v": 0.049}, {"year": "2021", "s": "研发费用率", "v": 0.05}, {"year": "2022-09", "s": "研发费用率", "v": 0.053},
        {"year": "2011", "s": "财务费用率", "v": 0.006}, {"year": "2012", "s": "财务费用率", "v": 0.008}, {"year": "2013", "s": "财务费用率", "v": 0.013}, {"year": "2014", "s": "财务费用率", "v": 0.009},
        {"year": "2015", "s": "财务费用率", "v": -0.016}, {"year": "2016", "s": "财务费用率", "v": -0.012}, {"year": "2017", "s": "财务费用率", "v": 0.013}, {"year": "2018", "s": "财务费用率", "v": -0.002},
        {"year": "2019", "s": "财务费用率", "v": 0.013}, {"year": "2020", "s": "财务费用率", "v": 0.016}, {"year": "2021", "s": "财务费用率", "v": 0.009}, {"year": "2022-09", "s": "财务费用率", "v": -0.005}
      ]},
      "mark": {"type": "line", "interpolate": "catmull-rom", "strokeWidth": 2.6},
      "encoding": {
        "x": {"field": "year", "type": "nominal", "sort": null, "title": null, "scale": {"type": "band", "domain": ["2011", "2012", "2013", "2014", "2015", "2016", "2017", "2018", "2019", "2020", "2021", "2022-09"], "paddingInner": 0, "paddingOuter": 0.0674}, "axis": {"labelAngle": 0, "tickBand": "extent", "offset": -22.2, "labelPadding": 6, "domainColor": "#404040", "domainWidth": 1.6, "labelFontWeight": "bold", "labelFontSize": 12}},
        "y": {"field": "v", "type": "quantitative", "title": null, "scale": {"domain": [-0.05, 0.2], "nice": false}, "axis": {"values": [-0.05, 0, 0.05, 0.1, 0.15, 0.2], "format": ".2%", "offset": -6, "labelFontWeight": "bold", "labelFontSize": 12}},
        "color": {"field": "s", "type": "nominal", "scale": {"domain": ["销售费用率", "管理费用率", "研发费用率", "财务费用率"], "range": ["#4f81bd", "#c00000", "#8c8c8c", "#ed7d31"]}, "legend": {"orient": "none", "legendX": 302, "legendY": 124, "direction": "horizontal", "title": null, "symbolType": "M-1,0H4", "symbolSize": 169, "symbolStrokeWidth": 3.5, "labelOffset": 25.5, "columnPadding": -1.5, "padding": 3, "strokeColor": "#000", "labelFontSize": 12, "labelLimit": 300}}
      }
    },
    {
      "width": 1080, "height": 114,
      "data": {"values": [
        {"year": "2016", "s": "销售费用 / 营业总收入（%）", "v": 0.091}, {"year": "2017", "s": "销售费用 / 营业总收入（%）", "v": 0.085}, {"year": "2018", "s": "销售费用 / 营业总收入（%）", "v": 0.108}, {"year": "2019", "s": "销售费用 / 营业总收入（%）", "v": 0.07},
        {"year": "2020", "s": "销售费用 / 营业总收入（%）", "v": 0.047}, {"year": "2021", "s": "销售费用 / 营业总收入（%）", "v": 0.053}, {"year": "2022-09", "s": "销售费用 / 营业总收入（%）", "v": 0.027},
        {"year": "2016", "s": "管理费用 / 营业总收入（%）", "v": 0.139}, {"year": "2017", "s": "管理费用 / 营业总收入（%）", "v": 0.13}, {"year": "2018", "s": "管理费用 / 营业总收入（%）", "v": 0.155}, {"year": "2019", "s": "管理费用 / 营业总收入（%）", "v": 0.155},
        {"year": "2020", "s": "管理费用 / 营业总收入（%）", "v": 0.145}, {"year": "2021", "s": "管理费用 / 营业总收入（%）", "v": 0.151}, {"year": "2022-09", "s": "管理费用 / 营业总收入（%）", "v": 0.144},
        {"year": "2016", "s": "财务费用 / 营业总收入（%）", "v": -0.013}, {"year": "2017", "s": "财务费用 / 营业总收入（%）", "v": 0.013}, {"year": "2018", "s": "财务费用 / 营业总收入（%）", "v": -0.001}, {"year": "2019", "s": "财务费用 / 营业总收入（%）", "v": 0.014},
        {"year": "2020", "s": "财务费用 / 营业总收入（%）", "v": 0.018}, {"year": "2021", "s": "财务费用 / 营业总收入（%）", "v": 0.008}, {"year": "2022-09", "s": "财务费用 / 营业总收入（%）", "v": -0.006},
        {"year": "2018", "s": "研发费用/营业总收入(%)", "v": 0.023}, {"year": "2019", "s": "研发费用/营业总收入(%)", "v": 0.043}, {"year": "2020", "s": "研发费用/营业总收入(%)", "v": 0.05},
        {"year": "2021", "s": "研发费用/营业总收入(%)", "v": 0.052}, {"year": "2022-09", "s": "研发费用/营业总收入(%)", "v": 0.053}
      ]},
      "mark": {"type": "line", "interpolate": "catmull-rom", "strokeWidth": 2.6},
      "encoding": {
        "x": {"field": "year", "type": "nominal", "sort": null, "title": null, "scale": {"type": "band", "domain": ["2016", "2017", "2018", "2019", "2020", "2021", "2022-09"], "paddingInner": 0, "paddingOuter": 0.0393}, "axis": {"labelAngle": 0, "tickBand": "extent", "offset": -11.4, "labelPadding": 6, "domainColor": "#404040", "domainWidth": 1.6, "labelFontWeight": "bold", "labelFontSize": 12}},
        "y": {"field": "v", "type": "quantitative", "title": null, "scale": {"domain": [-0.02, 0.18], "nice": false}, "axis": {"values": [-0.02, 0.03, 0.08, 0.13, 0.18], "format": ".2%", "offset": -6, "labelFontWeight": "bold", "labelFontSize": 12}},
        "color": {"field": "s", "type": "nominal", "scale": {"domain": ["销售费用 / 营业总收入（%）", "管理费用 / 营业总收入（%）", "财务费用 / 营业总收入（%）", "研发费用/营业总收入(%)"], "range": ["#c00000", "#00b0f0", "#8c8c8c", "#8064a2"]}, "legend": {"orient": "none", "legendX": 32, "legendY": 131, "direction": "horizontal", "title": null, "symbolType": "M-1,0H4", "symbolSize": 169, "symbolStrokeWidth": 3.5, "labelOffset": 51, "columnPadding": 37, "padding": 2, "strokeColor": "#000", "labelFontSize": 12, "labelLimit": 300}}
      }
    }
  ]
}
